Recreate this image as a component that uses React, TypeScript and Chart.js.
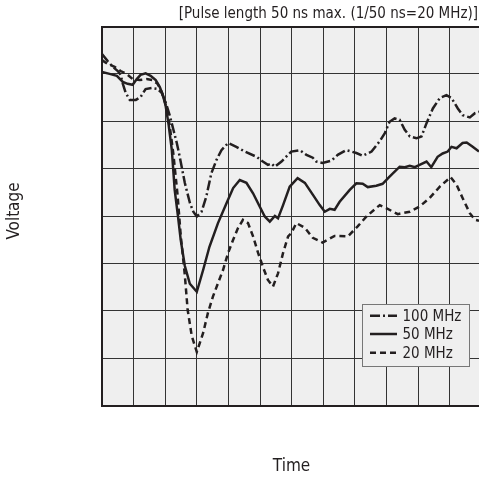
import { useEffect, useRef } from "react";
import { Chart, registerables } from "chart.js";

Chart.register(...registerables);

// Time axis in grid divisions, voltage in grid divisions (0 = bottom)
const time100 = [0, 0.18, 0.34, 0.5, 0.59, 0.66, 0.75, 0.88, 1.07, 1.22, 1.38, 1.57, 1.76, 1.89, 2.01, 2.14, 2.26, 2.36, 2.46, 2.62, 2.78, 2.89, 3.0, 3.15, 3.3, 3.46, 3.62, 3.78, 3.99, 4.25, 4.52, 4.89, 5.09, 5.25, 5.36, 5.47, 5.68, 5.99, 6.26, 6.47, 6.67, 6.78, 6.98, 7.26, 7.46, 7.73, 8.05, 8.25, 8.53, 8.79, 8.95, 9.1, 9.26, 9.42, 9.58, 9.74, 9.95, 10.11, 10.27, 10.47, 10.69, 10.9, 11.06, 11.26, 11.41, 11.64, 11.8, 11.93];
const volt100 = [7.42, 7.27, 7.15, 7.06, 6.98, 6.79, 6.6, 6.45, 6.45, 6.51, 6.68, 6.7, 6.68, 6.6, 6.41, 6.13, 5.82, 5.56, 5.25, 4.7, 4.28, 4.09, 3.99, 4.09, 4.41, 4.9, 5.18, 5.39, 5.54, 5.46, 5.36, 5.25, 5.15, 5.08, 5.11, 5.04, 5.15, 5.36, 5.39, 5.29, 5.23, 5.15, 5.12, 5.17, 5.29, 5.39, 5.33, 5.27, 5.36, 5.58, 5.75, 5.99, 6.06, 6.03, 5.82, 5.68, 5.64, 5.68, 5.96, 6.27, 6.49, 6.55, 6.49, 6.27, 6.13, 6.08, 6.17, 6.2];

const time50 = [0, 0.24, 0.47, 0.66, 0.81, 0.97, 1.1, 1.22, 1.38, 1.54, 1.7, 1.83, 1.92, 2.01, 2.11, 2.21, 2.3, 2.4, 2.49, 2.62, 2.78, 3.0, 3.2, 3.4, 3.67, 3.94, 4.15, 4.36, 4.57, 4.78, 4.99, 5.15, 5.31, 5.47, 5.57, 5.73, 5.94, 6.19, 6.42, 6.67, 6.89, 7.05, 7.21, 7.36, 7.52, 7.84, 8.05, 8.25, 8.41, 8.68, 8.88, 9.1, 9.42, 9.58, 9.74, 9.9, 10.05, 10.27, 10.42, 10.62, 10.78, 10.94, 11.06, 11.22, 11.41, 11.54, 11.73, 11.93];
const volt50 = [7.04, 7.0, 6.96, 6.83, 6.79, 6.77, 6.89, 6.98, 7.01, 6.96, 6.87, 6.72, 6.56, 6.34, 5.92, 5.39, 4.55, 4.02, 3.5, 2.95, 2.57, 2.4, 2.86, 3.35, 3.85, 4.27, 4.59, 4.76, 4.7, 4.48, 4.2, 3.99, 3.88, 4.0, 3.95, 4.23, 4.62, 4.8, 4.7, 4.45, 4.23, 4.09, 4.15, 4.13, 4.3, 4.55, 4.69, 4.68, 4.61, 4.64, 4.68, 4.83, 5.04, 5.03, 5.06, 5.03, 5.08, 5.15, 5.03, 5.25, 5.32, 5.36, 5.46, 5.43, 5.54, 5.55, 5.46, 5.36];

const time20 = [0, 0.18, 0.4, 0.59, 0.78, 0.97, 1.19, 1.41, 1.6, 1.76, 1.89, 2.01, 2.14, 2.26, 2.39, 2.49, 2.62, 2.71, 2.84, 3.0, 3.2, 3.35, 3.51, 3.67, 3.83, 3.99, 4.15, 4.3, 4.46, 4.62, 4.78, 4.94, 5.09, 5.25, 5.41, 5.57, 5.73, 5.89, 5.99, 6.15, 6.42, 6.67, 6.98, 7.36, 7.78, 8.09, 8.37, 8.68, 8.79, 9.01, 9.36, 9.74, 10.05, 10.37, 10.69, 11.03, 11.22, 11.41, 11.64, 11.8, 11.93];
const volt20 = [7.29, 7.21, 7.15, 7.06, 7.0, 6.89, 6.87, 6.89, 6.87, 6.79, 6.62, 6.36, 5.92, 5.3, 4.45, 3.6, 2.76, 2.02, 1.47, 1.13, 1.53, 1.95, 2.3, 2.58, 2.86, 3.22, 3.5, 3.74, 3.92, 3.85, 3.57, 3.22, 2.93, 2.65, 2.51, 2.79, 3.22, 3.57, 3.64, 3.85, 3.75, 3.54, 3.44, 3.58, 3.57, 3.78, 3.99, 4.17, 4.23, 4.16, 4.04, 4.09, 4.2, 4.38, 4.62, 4.82, 4.66, 4.38, 4.06, 3.92, 3.9];

const seriesLabels = ["100 MHz", "50 MHz", "20 MHz"];
const titleText = "[Pulse length 50 ns max. (1/50 ns=20 MHz)]";
const xTitle = "Time";
const yTitle = "Voltage";

const INK = "#231f20";
const FONT = '"DejaVu Sans Condensed", "DejaVu Sans", sans-serif';
const DASHES: number[][] = [[10, 3, 2, 3], [], [6, 4]];

const toPoints = (xs: number[], ys: number[]) => xs.map((x, i) => ({ x, y: ys[i] }));

const decorPlugin = {
  id: "decor",
  beforeDraw(chart: any) {
    const { ctx, chartArea: a, width, height } = chart;
    ctx.save();
    ctx.fillStyle = "#ffffff";
    ctx.fillRect(0, 0, width, height);
    ctx.fillStyle = "#efefef";
    ctx.fillRect(a.left, a.top, a.right - a.left, a.bottom - a.top);
    ctx.restore();
  },
  afterDraw(chart: any) {
    const { ctx, chartArea: a } = chart;
    ctx.save();
    ctx.fillStyle = INK;
    // title
    ctx.font = `15px ${FONT}`;
    ctx.textAlign = "right";
    ctx.textBaseline = "middle";
    ctx.fillText(titleText, 478, 14);
    // axis titles
    ctx.font = `17px ${FONT}`;
    ctx.textAlign = "center";
    ctx.fillText(xTitle, (a.left + a.right) / 2 + 1, 467);
    ctx.save();
    ctx.translate(15, 211);
    ctx.rotate(-Math.PI / 2);
    ctx.fillText(yTitle, 0, 0);
    ctx.restore();
    // legend
    const bx = 362.5, by = 304.5, bw = 107, bh = 62;
    ctx.fillStyle = "#efefef";
    ctx.fillRect(bx, by, bw, bh);
    ctx.strokeStyle = "#777777";
    ctx.lineWidth = 1;
    ctx.strokeRect(bx, by, bw, bh);
    const rows = [315.7, 334, 352.7];
    ctx.font = `15px ${FONT}`;
    ctx.textAlign = "left";
    seriesLabels.forEach((lab, i) => {
      ctx.beginPath();
      ctx.setLineDash(DASHES[i]);
      ctx.strokeStyle = INK;
      ctx.lineWidth = 2.5;
      ctx.moveTo(370, rows[i]);
      ctx.lineTo(397, rows[i]);
      ctx.stroke();
      ctx.setLineDash([]);
      ctx.fillStyle = INK;
      ctx.fillText(lab, 402.5, rows[i] + 1);
    });
    ctx.restore();
  },
};

export default function App() {
  const ref = useRef<HTMLCanvasElement | null>(null);
  useEffect(() => {
    if (!ref.current) return;
    const mk = (label: string, xs: number[], ys: number[], dash: number[]) => ({
      label,
      data: toPoints(xs, ys),
      borderColor: INK,
      borderWidth: 2.5,
      borderDash: dash,
      pointRadius: 0,
      tension: 0,
      fill: false,
    });
    const chart = new Chart(ref.current, {
      type: "line",
      data: {
        datasets: [
          mk(seriesLabels[0], time100, volt100, DASHES[0]),
          mk(seriesLabels[1], time50, volt50, DASHES[1]),
          mk(seriesLabels[2], time20, volt20, DASHES[2]),
        ],
      },
      options: {
        animation: false,
        responsive: false,
        layout: { padding: { left: 102, top: 26.5, right: 0, bottom: 71.5 } },
        plugins: { legend: { display: false }, tooltip: { enabled: false }, title: { display: false } },
        scales: {
          x: {
            type: "linear",
            min: 0,
            max: 11.93,
            ticks: { display: false, stepSize: 1, includeBounds: false },
            grid: { color: "#333333", lineWidth: 1, drawTicks: false },
            border: { color: INK, width: 2 },
            afterFit: (s: any) => { s.height = 0; },
          },
          y: {
            type: "linear",
            min: 0,
            max: 8,
            ticks: { display: false, stepSize: 1 },
            grid: {
              color: (c: any) => (c.tick && c.tick.value === 8 ? INK : "#333333"),
              lineWidth: (c: any) => (c.tick && c.tick.value === 8 ? 2 : 1),
              drawTicks: false,
            },
            border: { color: INK, width: 2 },
            afterFit: (s: any) => { s.width = 0; },
          },
        },
      },
      plugins: [decorPlugin],
    });
    return () => chart.destroy();
  }, []);
  return (
    <div style={{ position: "fixed", left: 0, top: 0, width: 479, height: 477 }}>
      <canvas ref={ref} width={479} height={477} style={{ display: "block" }} />
    </div>
  );
}
